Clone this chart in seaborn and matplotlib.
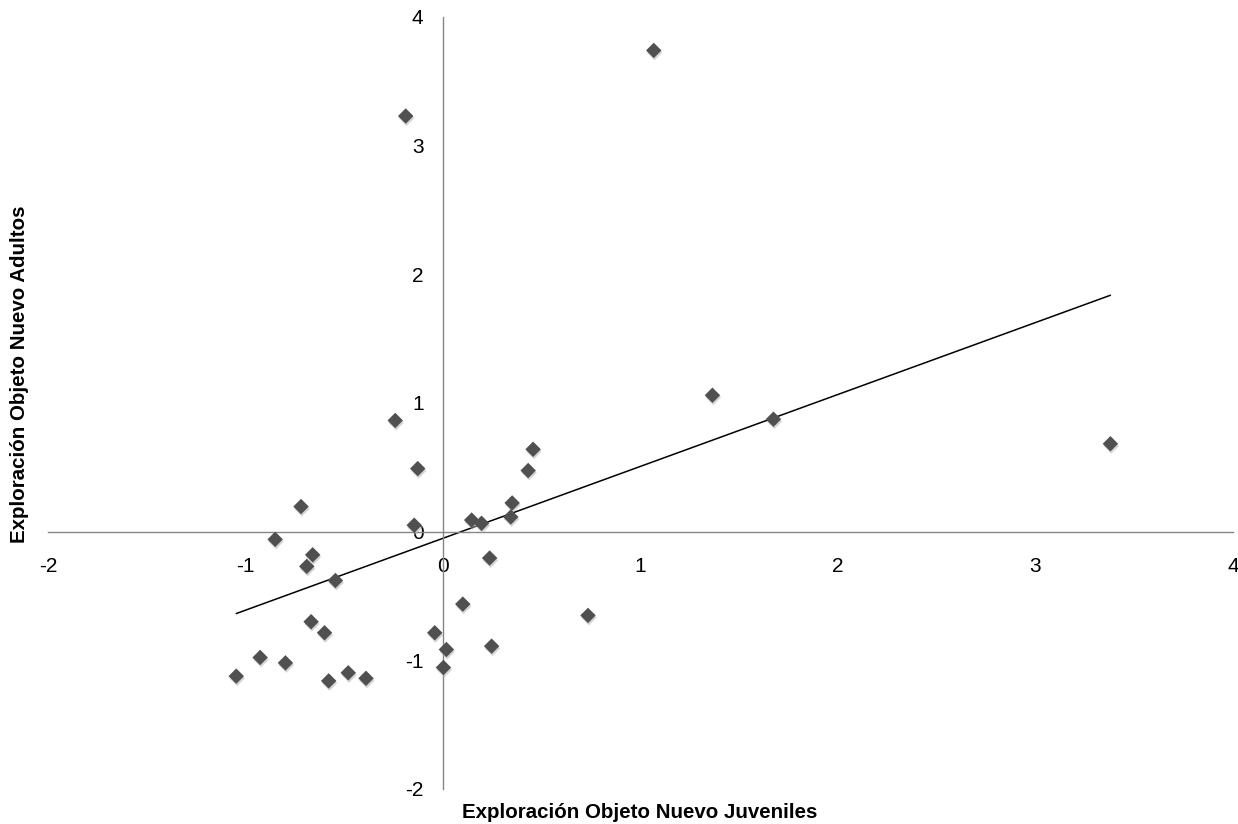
import numpy as np
import pandas as pd
import seaborn as sns
import matplotlib.pyplot as plt
import matplotlib.patheffects as pe

# values
juveniles = [-0.242, -0.128, -0.719, -0.146, -0.85, -0.66, -0.69, -0.545,
             -0.668, -0.60, -0.926, -0.798, -1.047, -0.579, -0.48, -0.39,
             -0.042, 0.017, 0.002, 0.10, 0.236, 0.246, 0.145, 0.195,
             0.35, 0.343, 0.431, 0.456, 0.734, 1.067, -0.189, 1.364,
             1.673, 3.379]
adultos = [0.864, 0.49, 0.195, 0.05, -0.06, -0.18, -0.27, -0.38,
           -0.70, -0.786, -0.978, -1.02, -1.123, -1.16, -1.097, -1.14,
           -0.786, -0.916, -1.056, -0.563, -0.205, -0.89, 0.09, 0.065,
           0.223, 0.114, 0.475, 0.64, -0.651, 3.74, 3.23, 1.06,
           0.874, 0.683]
ticks = [-2, -1, 0, 1, 2, 3, 4]

df = pd.DataFrame({'juv': juveniles, 'adu': adultos})

sns.set_style('white')
plt.rcParams['font.family'] = ['Liberation Sans', 'DejaVu Sans']
plt.rcParams['axes.unicode_minus'] = False

fig = plt.figure(figsize=(12.38, 8.24), dpi=100)
ax = fig.add_axes([0.0388, 0.0425, 0.9572, 0.9369])

# trend line (least squares, spans the data range)
sns.regplot(data=df, x='juv', y='adu', ci=None, scatter=False, ax=ax,
            line_kws={'color': 'black', 'lw': 1.1, 'zorder': 2})

pts = sns.scatterplot(data=df, x='juv', y='adu', marker='D', s=62,
                      color='#505050', edgecolor='none', ax=ax, zorder=3)
pts.collections[0].set_path_effects([
    pe.SimplePatchShadow(offset=(0.6, -1.6), shadow_rgbFace='#aaaaaa', alpha=0.5),
    pe.Normal()])

ax.set_xlim(-2, 4)
ax.set_ylim(-2, 4)
ax.set_xticks(ticks)
ax.set_yticks(ticks)

for side in ['top', 'right']:
    ax.spines[side].set_visible(False)
for side in ['left', 'bottom']:
    ax.spines[side].set_position(('data', 0))
    ax.spines[side].set_color('#868686')
    ax.spines[side].set_linewidth(1.0)

ax.tick_params(axis='x', direction='out', length=4, width=1, color='#868686',
               pad=14, labelsize=15, labelcolor='black')
ax.tick_params(axis='y', direction='out', length=6, width=1, color='#868686',
               pad=8, labelsize=15, labelcolor='black')

ax.set_xlabel('')
ax.set_ylabel('')
fig.text(0.517, 1 - 812 / 824, 'Exploración Objeto Nuevo Juveniles',
         ha='center', va='center', fontsize=14.8, fontweight='bold', color='black')
fig.text(20 / 1238, 1 - 374 / 824, 'Exploración Objeto Nuevo Adultos',
         ha='center', va='center', rotation=90, fontsize=14.8, fontweight='bold',
         color='black')

fig.savefig('out.png', dpi=100)
